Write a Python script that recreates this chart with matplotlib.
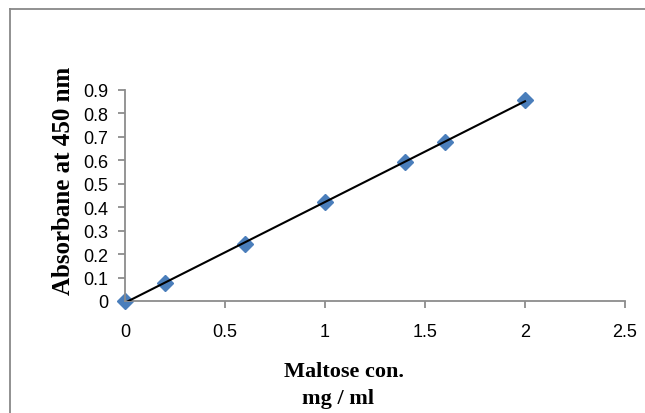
import numpy as np
import matplotlib
matplotlib.use("Agg")
import matplotlib.pyplot as plt
from matplotlib.lines import Line2D

# maltose standard curve
conc = [0, 0.2, 0.6, 1.0, 1.4, 1.6, 2.0]
absorb = [0, 0.077, 0.243, 0.422, 0.593, 0.678, 0.857]
xticks = [0, 0.5, 1, 1.5, 2, 2.5]
yticks = [0, 0.1, 0.2, 0.3, 0.4, 0.5, 0.6, 0.7, 0.8, 0.9]

fig = plt.figure(figsize=(6.45, 4.14), dpi=100)
ax = fig.add_axes([125/645, 112/414, 500/645, 211/414])

# linear trendline across the data range
slope, icpt = np.polyfit(conc, absorb, 1)
xs = np.array([min(conc), max(conc)])
ax.plot(xs, slope*xs + icpt, color='black', lw=1.5, zorder=3)

ax.plot(conc, absorb, linestyle='none', marker='D', markersize=8.5,
        color='#4A7EBB', zorder=2, clip_on=False)

ax.set_xlim(0, 2.5)
ax.set_ylim(0, 0.9)
ax.set_xticks(xticks)
ax.set_xticklabels(['0', '0.5', '1', '1.5', '2', '2.5'])
ax.set_yticks(yticks)
ax.set_yticklabels(['0', '0.1', '0.2', '0.3', '0.4', '0.5', '0.6', '0.7', '0.8', '0.9'])

for s in ['top', 'right']:
    ax.spines[s].set_visible(False)
for s in ['left', 'bottom']:
    ax.spines[s].set_color('#8c8c8c')
    ax.spines[s].set_linewidth(1.3)
ax.tick_params(colors='#8c8c8c', length=5, width=1.3, labelcolor='black',
               labelsize=13)
ax.tick_params(axis='x', pad=11)
ax.tick_params(axis='y', pad=7)
for lab in ax.get_xticklabels() + ax.get_yticklabels():
    lab.set_family('Liberation Sans')

fig.text(63/645, 1 - 181/414, 'Absorbane at 450 nm', family='Liberation Serif',
         fontweight='bold', fontsize=18, rotation=90, ha='center', va='center')

fig.text(344/645, 1 - 377/414, 'Maltose con.', family='Liberation Serif',
         fontweight='bold', fontsize=16, ha='center', va='baseline')
fig.text(338/645, 1 - 404/414, 'mg / ml', family='Liberation Serif',
         fontweight='bold', fontsize=16, ha='center', va='baseline')

# chart frame (clipped by the image edge)
fig.add_artist(Line2D([10/645, 1], [1 - 10/414, 1 - 10/414],
                      transform=fig.transFigure, color='#888888', lw=1.3))
fig.add_artist(Line2D([10/645, 10/645], [0, 1 - 10/414],
                      transform=fig.transFigure, color='#888888', lw=1.3))

fig.savefig('out.png', dpi=100)
